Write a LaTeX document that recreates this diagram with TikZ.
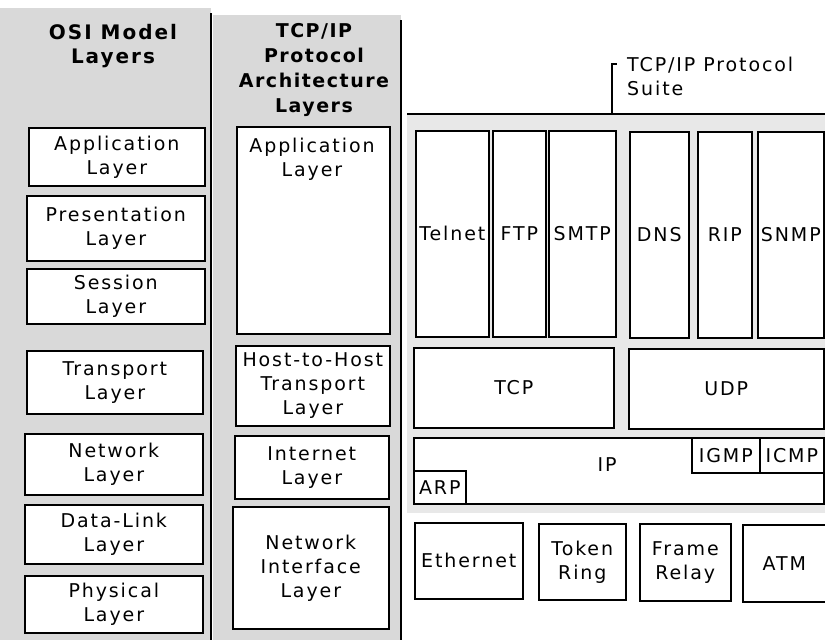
\documentclass[tikz,border=0pt]{standalone}
\usepackage{fontspec}
\setmainfont{DejaVu Sans}
\newfontfamily\lblfont[LetterSpace=10]{DejaVu Sans}
\newfontfamily\hdrfont[LetterSpace=8]{DejaVu Sans}
\newfontfamily\osihdrfont[LetterSpace=10]{DejaVu Sans}
\newcommand\bx[6]{\node[box,anchor=north west,minimum width={#4pt-#2pt},minimum height={#5pt-#3pt}] (#1) at (#2,#3) {#6};}
\begin{document}
\begin{tikzpicture}[x=1pt,y=-1pt,
  lbl/.style={font=\lblfont\fontsize{19}{24}\selectfont,align=center,inner sep=0pt},
  hdr/.style={font=\hdrfont\bfseries\fontsize{19}{25}\selectfont,align=center,inner sep=0pt},
  osihdr/.style={font=\osihdrfont\bfseries\fontsize{20}{24}\selectfont,align=center,inner sep=0pt},
  box/.style={draw,line width=1.6pt,fill=white,inner sep=0pt,lbl},
  divider/.style={line width=1.5pt},
  bracket/.style={line width=1.5pt}]
\useasboundingbox (0,0) rectangle (825,640);
\fill[white] (0,0) rectangle (825,640);
\fill[gray!30] (0,8) rectangle (211,640);
\fill[gray!30] (213,15) rectangle (401,640);
\fill[gray!18] (407,113) rectangle (825,513);
\draw[divider] (211,13) -- (211,640);
\draw[divider] (401,20) -- (401,640);
% headers
\node[osihdr] (osihdr) at (113,46) {OSI Model\\Layers};
\node[hdr] (tcphdr) at (314,70) {TCP/IP\\Protocol\\Architecture\\Layers};
% OSI boxes
\bx{oapp}{28}{127}{204}{185}{Application\\Layer}
\bx{opre}{26}{195}{204}{260}{Presentation\\Layer}
\bx{oses}{26}{268}{204}{323}{Session\\Layer}
\bx{otra}{26}{350}{202}{413}{Transport\\Layer}
\bx{onet}{24}{433}{202}{494}{Network\\Layer}
\bx{odl}{24}{504}{202}{563}{Data-Link\\Layer}
\bx{ophy}{24}{575}{202}{632}{Physical\\Layer}
% TCP/IP architecture boxes
\bx{tapp}{236}{126}{389}{333}{}
\node[lbl] (tapptxt) at (312,159) {Application\\Layer};
\bx{thost}{235}{345}{389}{425}{Host-to-Host\\Transport\\Layer}
\bx{tint}{234}{435}{388}{498}{Internet\\Layer}
\bx{tni}{232}{506}{388}{628}{Network\\Interface\\Layer}
% protocol suite
\draw[line width=2.5pt] (407,114) -- (825,114);
\coordinate (brb) at (612,114);
\coordinate (brt) at (612,64);
\node[lbl,anchor=north west,align=left] (suite) at (627,57) {TCP/IP Protocol\\Suite};
\draw[bracket] (brb) -- (brt) -- ++(5,0);
\bx{telnet}{415}{130}{488}{336}{Telnet}
\bx{ftp}{492}{130}{545}{336}{FTP}
\bx{smtp}{548}{130}{615}{336}{SMTP}
\bx{dns}{629}{131}{688}{337}{DNS}
\bx{rip}{697}{131}{751}{337}{RIP}
\bx{snmp}{757}{131}{823}{337}{SNMP}
\bx{tcp}{413}{347}{613}{427}{TCP}
\bx{udp}{628}{348}{823}{428}{UDP}
\bx{ip}{413}{437}{823}{503}{}
\node[lbl] (iptxt) at (607,465) {IP};
\bx{igmp}{691}{437}{759}{472}{IGMP}
\bx{icmp}{759}{437}{823}{472}{ICMP}
\bx{arp}{413}{470}{465}{503}{ARP}
\bx{eth}{414}{522}{522}{598}{Ethernet}
\bx{tok}{538}{523}{625}{599}{Token\\Ring}
\bx{fr}{639}{523}{730}{600}{Frame\\Relay}
\bx{atm}{742}{524}{825}{601}{ATM}
\end{tikzpicture}
\end{document}
